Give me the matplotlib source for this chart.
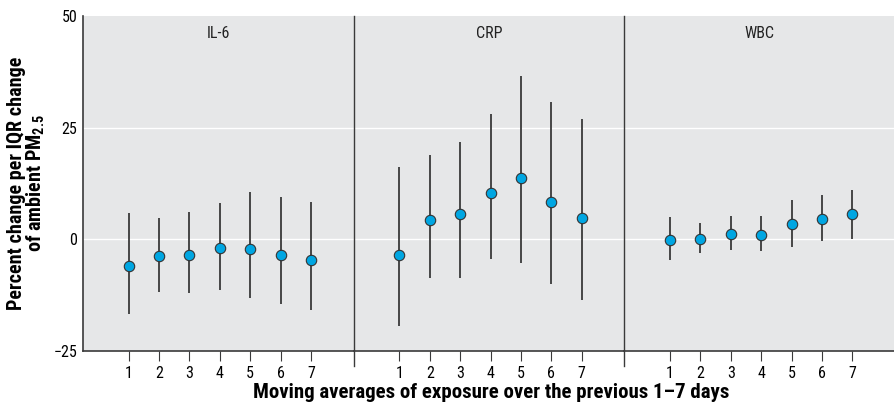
import numpy as np
import matplotlib
matplotlib.use("Agg")
import matplotlib.pyplot as plt

plt.rcParams['font.family'] = ['Roboto Condensed', 'PT Sans Narrow', 'DejaVu Sans']
plt.rcParams['mathtext.fontset'] = 'custom'
plt.rcParams['mathtext.rm'] = 'Roboto Condensed'
plt.rcParams['mathtext.bf'] = 'Roboto Condensed:bold'

# moving-average window (days)
days = [1, 2, 3, 4, 5, 6, 7]
panels = ['IL-6', 'CRP', 'WBC']

il6_est = [-6.0, -3.7, -3.4, -2.0, -2.2, -3.4, -4.7]
il6_lo = [-16.8, -11.7, -12.0, -11.3, -13.1, -14.5, -15.8]
il6_hi = [6.0, 4.8, 6.1, 8.1, 10.7, 9.5, 8.3]

crp_est = [-3.4, 4.3, 5.6, 10.4, 13.7, 8.4, 4.8]
crp_lo = [-19.4, -8.7, -8.6, -4.5, -5.2, -10.0, -13.6]
crp_hi = [16.2, 18.8, 21.7, 28.0, 36.6, 30.8, 27.0]

wbc_est = [-0.2, 0.1, 1.2, 1.0, 3.4, 4.6, 5.6]
wbc_lo = [-4.6, -3.1, -2.5, -2.7, -1.7, -0.4, 0.1]
wbc_hi = [4.9, 3.7, 5.2, 5.2, 8.8, 10.0, 11.0]

series = [(il6_est, il6_lo, il6_hi), (crp_est, crp_lo, crp_hi), (wbc_est, wbc_lo, wbc_hi)]

bg = '#e6e7e8'
line_col = '#3a3a3a'
dot_col = '#00a6e2'

fig = plt.figure(figsize=(8.95, 4.05), dpi=100)
left, right = 83 / 895, 895 / 895
bottom, top = (405 - 351) / 405, (405 - 16) / 405
pw = (right - left) / 3

for i, (name, (est, lo, hi)) in enumerate(zip(panels, series)):
    ax = fig.add_axes([left + i * pw, bottom, pw, top - bottom])
    ax.set_facecolor(bg)
    ax.set_xlim(-0.5, 8.4)
    ax.set_ylim(-25, 50)
    for yv in (0, 25):
        ax.axhline(yv, color='white', lw=1.0, zorder=1)
    ax.vlines(days, lo, hi, color=line_col, lw=1.3, zorder=2)
    ax.plot(days, est, 'o', ms=7.5, mfc=dot_col, mec='#333333', mew=0.8, zorder=3)
    ax.text(0.5, 0.948, name, transform=ax.transAxes, ha='center', va='center',
            fontsize=11.5, color='#222222')

    ax.set_xticks(days)
    ax.set_xticklabels([str(d) for d in days], fontsize=11.5)
    ax.tick_params(axis='x', length=7, width=0.8, color=line_col, pad=4)
    for s in ('top', 'right', 'left'):
        ax.spines[s].set_visible(False)
    ax.spines['bottom'].set_color(line_col)
    ax.spines['bottom'].set_linewidth(1.2)
    if i == 0:
        ax.spines['left'].set_visible(True)
        ax.spines['left'].set_color(line_col)
        ax.spines['left'].set_linewidth(1.2)
        ax.set_yticks([-25, 0, 25, 50])
        ax.set_yticklabels(['\u221225', '0', '25', '50'], fontsize=11.5)
        ax.tick_params(axis='y', length=0, pad=4)
        ax.set_ylabel('Percent change per IQR change\nof ambient PM$_{\\mathbf{2.5}}$',
                      fontsize=14.5, fontweight='bold', labelpad=5, linespacing=0.9)
    else:
        ax.set_yticks([])
        # panel divider running below the axis
        ax.plot([0, 0], [-0.045, 1], transform=ax.transAxes, color=line_col,
                lw=1.0, clip_on=False, zorder=4)

fig.supxlabel('Moving averages of exposure over the previous 1\u20137 days',
              x=(left + right) / 2 + 0.003, y=(405 - 393) / 405, va='center',
              fontsize=15, fontweight='bold')

fig.savefig('out.png', dpi=100)
